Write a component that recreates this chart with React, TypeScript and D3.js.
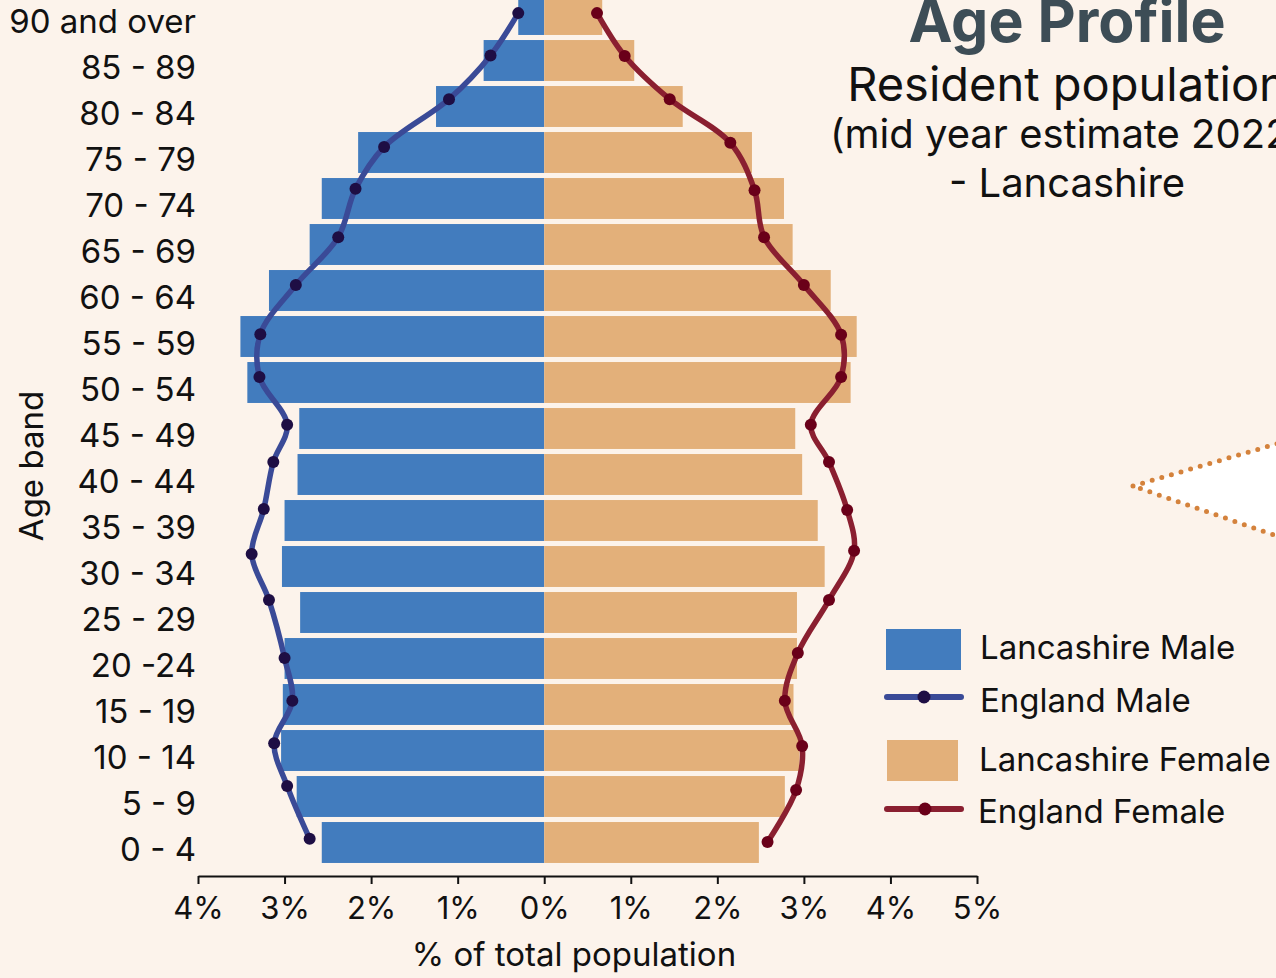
import React, { useEffect, useRef } from 'react'
import * as d3 from 'd3'

// bottom (0 - 4) to top (90 and over)
const ageBands = ['0 - 4', '5 - 9', '10 - 14', '15 - 19', '20 -24', '25 - 29', '30 - 34', '35 - 39', '40 - 44', '45 - 49', '50 - 54', '55 - 59', '60 - 64', '65 - 69', '70 - 74', '75 - 79', '80 - 84', '85 - 89', '90 and over']
const lancsMale = [2.57, 2.86, 3.04, 3.02, 3.0, 2.82, 3.03, 3.0, 2.85, 2.83, 3.43, 3.51, 3.18, 2.71, 2.57, 2.15, 1.25, 0.7, 0.3]
const lancsFemale = [2.48, 2.78, 2.95, 2.88, 2.92, 2.92, 3.24, 3.16, 2.98, 2.9, 3.54, 3.61, 3.31, 2.87, 2.77, 2.4, 1.6, 1.04, 0.67]
const englandMale = [2.71, 2.97, 3.12, 2.91, 3.0, 3.18, 3.38, 3.24, 3.13, 2.97, 3.29, 3.28, 2.87, 2.38, 2.18, 1.85, 1.1, 0.62, 0.3]
const englandFemale = [2.58, 2.91, 2.98, 2.78, 2.93, 3.29, 3.58, 3.5, 3.29, 3.08, 3.43, 3.43, 3.0, 2.54, 2.43, 2.15, 1.45, 0.93, 0.61]
// where the England markers sit, in age-band units (0 = middle of 0 - 4)
const englandMalePos = [0.08, 1.23, 2.16, 3.08, 4.01, 5.27, 6.27, 7.25, 8.27, 9.08, 10.12, 11.05, 12.12, 13.16, 14.21, 15.12, 16.16, 17.11, 18.03]
const englandFemalePos = [0.01, 1.14, 2.1, 3.08, 4.12, 5.27, 6.34, 7.23, 8.27, 9.08, 10.12, 11.04, 12.12, 13.16, 14.18, 15.21, 16.16, 17.1, 18.03]
const xTicks = [-4, -3, -2, -1, 0, 1, 2, 3, 4, 5]

const W = 1276
const H = 978
const FONT = 'Inter, "Noto Sans", sans-serif'
const BG = '#fcf3eb'
const MALE_BAR = '#427cbe'
const FEMALE_BAR = '#e3b07a'
const MALE_LINE = '#3a4a97'
const MALE_DOT = '#1e0e44'
const FEMALE_LINE = '#8a1f30'
const FEMALE_DOT = '#6a0019'

export default function App() {
  const axisRef = useRef<SVGGElement | null>(null)

  const x = d3.scaleLinear().domain([-4, 5]).range([198, 977])
  const y = d3.scaleBand<string>()
    .domain([...ageBands].reverse())
    .range([-8.5, 865.5])
    .paddingInner(0.11)
    .paddingOuter(0.055)
  const bw = y.bandwidth()
  const yPos = d3.scaleLinear()
    .domain([0, ageBands.length - 1])
    .range([(y(ageBands[0]) as number) + bw / 2, (y(ageBands[ageBands.length - 1]) as number) + bw / 2])

  const maleLine = d3.line<number>()
    .x(v => x(-v))
    .y((_, i) => yPos(englandMalePos[i]))
    .curve(d3.curveCatmullRom)
  const femaleLine = d3.line<number>()
    .x(v => x(v))
    .y((_, i) => yPos(englandFemalePos[i]))
    .curve(d3.curveCatmullRom)

  useEffect(() => {
    document.body.style.margin = '0'
    const g = d3.select(axisRef.current)
    g.selectAll('*').remove()
    g.call(
      d3.axisBottom(x)
        .tickValues(xTicks)
        .tickFormat(d => `${Math.abs(+d)}%`)
        .tickSize(8)
        .tickSizeOuter(0)
        .tickPadding(13)
    )
    g.select('.domain').attr('stroke', '#111').attr('stroke-width', 2)
    g.selectAll('.tick line').attr('stroke', '#111').attr('stroke-width', 2)
    g.selectAll('.tick text').attr('fill', '#111').style('font-size', '31px').style('font-family', FONT)
  }, [])

  return (
    <svg width={W} height={H} style={{ display: 'block', background: BG, fontFamily: FONT }}>
      <rect width={W} height={H} fill={BG} />

      {/* callout pointer on the right */}
      <polygon
        points="1133,486 1300,437 1300,544"
        fill="#fff"
        stroke="#d4823c"
        strokeWidth={5}
        strokeDasharray="0 10"
        strokeLinecap="round"
      />

      {/* bars */}
      {ageBands.map((a, i) => (
        <g key={a}>
          <rect x={x(-lancsMale[i])} y={y(a)} width={x(0) - x(-lancsMale[i])} height={bw} fill={MALE_BAR} />
          <rect x={x(0)} y={y(a)} width={x(lancsFemale[i]) - x(0)} height={bw} fill={FEMALE_BAR} />
        </g>
      ))}

      {/* England lines */}
      <path d={maleLine(englandMale) || ''} fill="none" stroke={MALE_LINE} strokeWidth={5.5} strokeLinejoin="round" />
      <path d={femaleLine(englandFemale) || ''} fill="none" stroke={FEMALE_LINE} strokeWidth={5.5} strokeLinejoin="round" />
      {englandMale.map((v, i) => (
        <circle key={'m' + i} cx={x(-v)} cy={yPos(englandMalePos[i])} r={6} fill={MALE_DOT} />
      ))}
      {englandFemale.map((v, i) => (
        <circle key={'f' + i} cx={x(v)} cy={yPos(englandFemalePos[i])} r={6} fill={FEMALE_DOT} />
      ))}

      {/* y labels */}
      {ageBands.map(a => (
        <text key={a} x={196} y={(y(a) as number) + bw / 2 + 6} textAnchor="end" dominantBaseline="central" fontSize={33} fill="#111">
          {a}
        </text>
      ))}
      <text transform="translate(31,466) rotate(-90)" textAnchor="middle" dominantBaseline="central" fontSize={33} fill="#111">
        Age band
      </text>

      {/* x axis */}
      <g ref={axisRef} transform="translate(0,876)" />
      <text x={574} y={966} textAnchor="middle" fontSize={33} fill="#111">% of total population</text>

      {/* titles */}
      <text x={1067} y={42} textAnchor="middle" fontSize={59} fontWeight={700} fill="#3d4d56">Age Profile</text>
      <text x={1067} y={101} textAnchor="middle" fontSize={47} fill="#111">Resident population</text>
      <text x={1067} y={148} textAnchor="middle" fontSize={40} fill="#111">(mid year estimate 2022)</text>
      <text x={1067} y={197} textAnchor="middle" fontSize={40} fill="#111">- Lancashire</text>

      {/* legend */}
      <rect x={886} y={629} width={75} height={41} fill={MALE_BAR} />
      <text x={980} y={659} fontSize={33} fill="#111">Lancashire Male</text>
      <line x1={887} x2={961} y1={697} y2={697} stroke={MALE_LINE} strokeWidth={6} strokeLinecap="round" />
      <circle cx={924} cy={697} r={6.5} fill={MALE_DOT} />
      <text x={980} y={712} fontSize={33} fill="#111">England Male</text>
      <rect x={887} y={740} width={71} height={41} fill={FEMALE_BAR} />
      <text x={979} y={771} fontSize={33} fill="#111">Lancashire Female</text>
      <line x1={887} x2={961} y1={809} y2={809} stroke={FEMALE_LINE} strokeWidth={6} strokeLinecap="round" />
      <circle cx={925} cy={809} r={6.5} fill={FEMALE_DOT} />
      <text x={978} y={823} fontSize={33} fill="#111">England Female</text>
    </svg>
  )
}
